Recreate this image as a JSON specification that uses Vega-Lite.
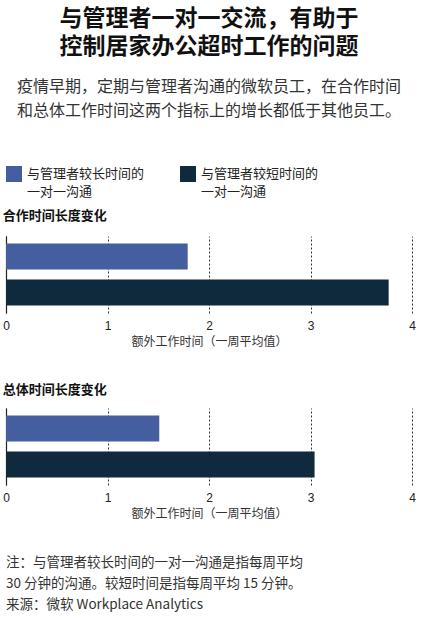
{
  "$schema": "https://vega.github.io/schema/vega-lite/v6.json",
  "background": "#ffffff",
  "padding": {"left": 2, "right": 5, "top": 8, "bottom": 0},
  "title": {
    "text": ["与管理者一对一交流，有助于", "控制居家办公超时工作的问题"],
    "subtitle": ["疫情早期，定期与管理者沟通的微软员工，在合作时间", "和总体工作时间这两个指标上的增长都低于其他员工。"],
    "anchor": "middle",
    "font": "Noto Sans CJK SC",
    "fontSize": 23,
    "fontWeight": "bold",
    "lineHeight": 28,
    "color": "#111111",
    "subtitleFont": "Noto Sans CJK SC",
    "subtitleFontSize": 16,
    "subtitleLineHeight": 24,
    "subtitleColor": "#333333",
    "subtitlePadding": 20,
    "offset": 47
  },
  "data": {
    "values": [
      {"metric": "合作时间长度变化", "group": "与管理者较长时间的|一对一沟通", "value": 1.79},
      {"metric": "合作时间长度变化", "group": "与管理者较短时间的|一对一沟通", "value": 3.77},
      {"metric": "总体时间长度变化", "group": "与管理者较长时间的|一对一沟通", "value": 1.51},
      {"metric": "总体时间长度变化", "group": "与管理者较短时间的|一对一沟通", "value": 3.04}
    ]
  },
  "spacing": 37,
  "vconcat": [
    {
      "title": {"text": "合作时间长度变化", "anchor": "start", "fontSize": 13, "fontWeight": "bold", "color": "#111111", "offset": 13},
      "transform": [{"filter": "datum.metric === '合作时间长度变化'"}],
      "width": 406,
      "height": 77,
      "mark": {"type": "bar"},
      "encoding": {
        "y": {"field": "group", "type": "nominal", "scale": {"domain": ["与管理者较长时间的|一对一沟通", "与管理者较短时间的|一对一沟通"], "paddingInner": 0.28, "paddingOuter": 0.21}, "axis": {"title": null, "labels": false, "ticks": false, "domain": true, "domainColor": "#222222", "domainWidth": 1.2, "grid": false}},
        "x": {"field": "value", "type": "quantitative", "scale": {"domain": [0, 4]}, "axis": {"values": [0, 1, 2, 3, 4], "title": "额外工作时间（一周平均值）"}},
        "color": {"field": "group", "type": "nominal", "scale": {"domain": ["与管理者较长时间的|一对一沟通", "与管理者较短时间的|一对一沟通"], "range": ["#455ea0", "#0f293d"]}, "legend": {"orient": "top", "title": null, "columns": 2, "columnPadding": 35, "offset": 11, "symbolType": "square", "symbolSize": 256, "symbolStrokeWidth": 0, "labelFontSize": 13, "labelBaseline": "alphabetic", "labelExpr": "split(datum.label, '|')", "labelOffset": 5, "labelLimit": 200, "labelColor": "#222222"}}
      }
    },
    {
      "title": {"text": "总体时间长度变化", "anchor": "start", "fontSize": 13, "fontWeight": "bold", "color": "#111111", "offset": 11},
      "transform": [{"filter": "datum.metric === '总体时间长度变化'"}],
      "width": 406,
      "height": 77,
      "mark": {"type": "bar"},
      "encoding": {
        "y": {"field": "group", "type": "nominal", "scale": {"domain": ["与管理者较长时间的|一对一沟通", "与管理者较短时间的|一对一沟通"], "paddingInner": 0.28, "paddingOuter": 0.21}, "axis": {"title": null, "labels": false, "ticks": false, "domain": true, "domainColor": "#222222", "domainWidth": 1.2, "grid": false}},
        "x": {"field": "value", "type": "quantitative", "scale": {"domain": [0, 4]}, "axis": {"values": [0, 1, 2, 3, 4], "title": "额外工作时间（一周平均值）"}},
        "color": {"field": "group", "type": "nominal", "scale": {"domain": ["与管理者较长时间的|一对一沟通", "与管理者较短时间的|一对一沟通"], "range": ["#455ea0", "#0f293d"]}}
      }
    },
    {
      "data": {
        "values": [
          {"line": 1, "text": "注：与管理者较长时间的一对一沟通是指每周平均"},
          {"line": 2, "text": "30 分钟的沟通。较短时间是指每周平均 15 分钟。"},
          {"line": 3, "text": "来源：微软 Workplace Analytics"}
        ]
      },
      "width": 406,
      "height": 54,
      "mark": {"type": "text", "align": "left", "baseline": "alphabetic", "fontSize": 13.5, "color": "#333333"},
      "encoding": {
        "y": {"field": "line", "type": "ordinal", "axis": null, "scale": {"padding": 0.3}},
        "x": {"value": 0},
        "text": {"field": "text"}
      }
    }
  ],
  "config": {
    "font": "Noto Sans CJK SC",
    "view": {"stroke": null},
    "style": {"guide-label": {"lineHeight": 18, "dy": 4}},
    "axisX": {
      "domain": false,
      "ticks": false,
      "grid": true,
      "gridDash": [2, 2],
      "gridColor": "#333333",
      "gridOpacity": 1,
      "labelFont": "Liberation Sans",
      "labelFontSize": 12,
      "labelLineHeight": 12,
      "labelColor": "#222222",
      "labelPadding": 3,
      "labelFlush": false,
      "titleFontSize": 12,
      "titleFontWeight": "normal",
      "titleColor": "#333333",
      "titlePadding": 5
    }
  }
}
